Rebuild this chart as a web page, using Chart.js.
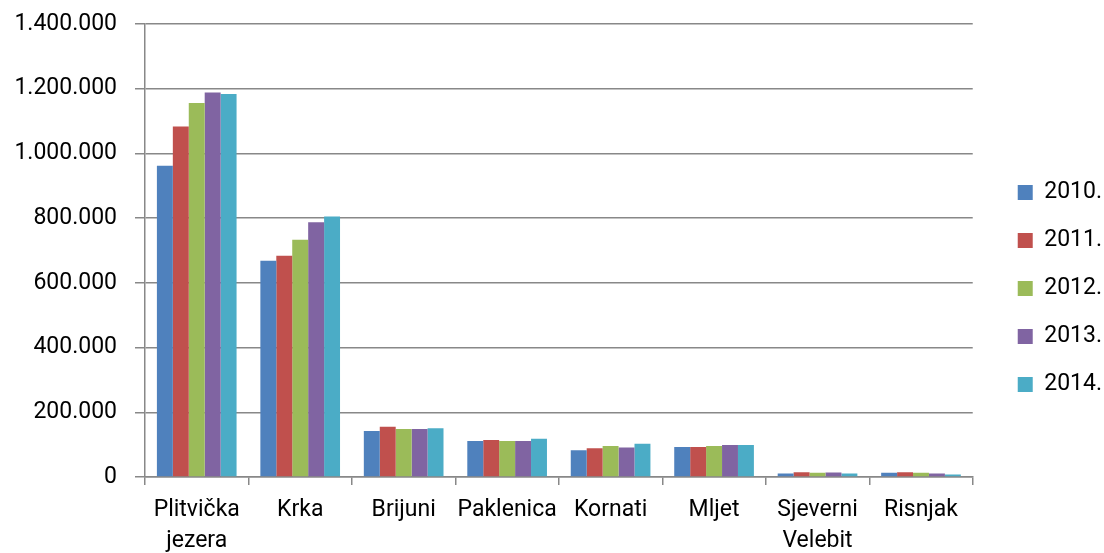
<!DOCTYPE html>
<html>
<head>
<meta charset="utf-8">
<script src="https://cdn.jsdelivr.net/npm/chart.js@4.4.1/dist/chart.umd.min.js"></script>
<style>
  html, body { margin: 0; padding: 0; background: #fff; }
  #wrap { width: 1104px; height: 553px; }
</style>
</head>
<body>
<div id="wrap"><canvas id="chart" width="1104" height="553"></canvas></div>
<script>
// nacionalni parkovi - broj posjetitelja
const parks = [["Plitvička", "jezera"], "Krka", "Brijuni", "Paklenica", "Kornati", "Mljet", ["Sjeverni", "Velebit"], "Risnjak"];
const years = ["2010.", "2011.", "2012.", "2013.", "2014."];

const v2010 = [962000, 668000, 142000, 111000, 83000, 93000, 11000, 13000];
const v2011 = [1083000, 684000, 155000, 114000, 89000, 93000, 15000, 15000];
const v2012 = [1156000, 733000, 148000, 111000, 96000, 96000, 13000, 13000];
const v2013 = [1188000, 787000, 148000, 111000, 91000, 99000, 14000, 11000];
const v2014 = [1184000, 805000, 151000, 118000, 103000, 99000, 11000, 8000];

const yTicks = [0, 200000, 400000, 600000, 800000, 1000000, 1200000, 1400000];

const colors = ['#4F81BD', '#C0504D', '#9BBB59', '#8064A2', '#4BACC6'];
const series = [v2010, v2011, v2012, v2013, v2014];
const font = { family: 'Roboto', size: 23 };

function fmt(v) {
    return String(v).replace(/\B(?=(\d{3})+(?!\d))/g, '.');
}

const ctx = document.getElementById("chart").getContext("2d");
new Chart(ctx, {
    type: 'bar',
    data: {
        labels: parks,
        datasets: series.map((d, i) => ({
            label: years[i],
            data: d,
            backgroundColor: colors[i],
            borderWidth: 0,
            categoryPercentage: 0.77,
            barPercentage: 1.0
        }))
    },
    options: {
        responsive: false,
        animation: false,
        layout: { padding: { top: 24, left: 0, right: -8, bottom: 0 } },
        scales: {
            x: {
                offset: true,
                grid: {
                    offset: true,
                    drawOnChartArea: false,
                    color: '#888',
                    lineWidth: 1.5,
                    tickLength: 8
                },
                border: { color: '#888', width: 1.5 },
                ticks: {
                    color: '#000',
                    font: { ...font, lineHeight: 1.35 },
                    maxRotation: 0,
                    autoSkip: false,
                    padding: 10
                },
                afterFit: axis => {
                    axis.height = 76;
                    axis.paddingLeft = 0;
                    axis.paddingRight = 0;
                }
            },
            y: {
                min: 0,
                max: 1400000,
                afterBuildTicks: axis => { axis.ticks = yTicks.map(v => ({ value: v })); },
                grid: {
                    color: '#888',
                    lineWidth: 1.5,
                    tickLength: 10
                },
                border: { color: '#888', width: 1.5 },
                ticks: {
                    color: '#000',
                    font: font,
                    padding: 18,
                    callback: v => fmt(v)
                },
                afterFit: axis => {
                    axis.width = 145;
                    axis.paddingTop = 0;
                    axis.paddingBottom = 0;
                }
            },
            // prazan prostor izmedju grafa i legende
            gap: {
                type: 'linear',
                position: 'right',
                grid: { display: false },
                border: { display: false },
                ticks: { display: false },
                afterFit: axis => {
                    axis.width = 20;
                    axis.paddingTop = 0;
                    axis.paddingBottom = 0;
                }
            }
        },
        plugins: {
            legend: {
                position: 'right',
                labels: {
                    boxWidth: 15,
                    boxHeight: 15,
                    padding: 25,
                    color: '#000',
                    font: font
                }
            },
            tooltip: { enabled: false }
        }
    }
});
</script>
</body>
</html>
